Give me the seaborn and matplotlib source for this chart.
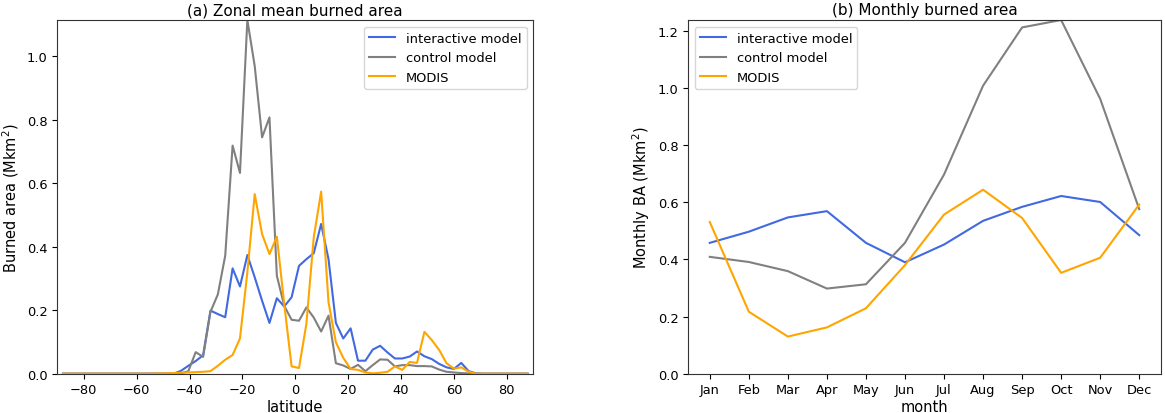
import numpy as np
import pandas as pd
import matplotlib
matplotlib.use("Agg")
import matplotlib.pyplot as plt
import seaborn as sns

# ---------------- data ----------------
latitude = [-87.86, -85.07, -82.28, -79.49, -76.70, -73.91, -71.13, -68.34,
            -65.55, -62.76, -59.97, -57.19, -54.40, -51.61, -48.82, -46.03,
            -43.24, -40.45, -37.66, -34.87, -32.08, -29.29, -26.50, -23.71,
            -20.92, -18.13, -15.35, -12.56, -9.77, -6.98, -4.19, -1.40,
            1.40, 4.19, 6.98, 9.77, 12.56, 15.35, 18.13, 20.92,
            23.71, 26.50, 29.29, 32.08, 34.87, 37.66, 40.45, 43.24,
            46.03, 48.82, 51.61, 54.40, 57.19, 59.97, 62.76, 65.55,
            68.34, 71.13, 73.91, 76.70, 79.49, 82.28, 85.07, 87.86]

zonal_interactive = [0, 0, 0, 0, 0, 0, 0, 0,
                     0, 0, 0, 0, 0, 0, 0, 0.0,
                     0.009, 0.025, 0.040, 0.058, 0.199, 0.188, 0.178, 0.332,
                     0.275, 0.374, 0.304, 0.230, 0.160, 0.238, 0.212, 0.241,
                     0.340, 0.361, 0.380, 0.472, 0.361, 0.160, 0.111, 0.143,
                     0.041, 0.041, 0.076, 0.088, 0.067, 0.048, 0.048, 0.054,
                     0.070, 0.055, 0.046, 0.031, 0.020, 0.015, 0.034, 0.008,
                     0.001, 0, 0, 0, 0, 0, 0, 0]

zonal_control = [0, 0, 0, 0, 0, 0, 0, 0,
                 0, 0, 0, 0, 0, 0, 0, 0,
                 0.001, 0.008, 0.068, 0.053, 0.195, 0.250, 0.372, 0.719,
                 0.633, 1.115, 0.970, 0.745, 0.808, 0.309, 0.214, 0.170,
                 0.167, 0.209, 0.177, 0.133, 0.183, 0.033, 0.026, 0.015,
                 0.028, 0.008, 0.027, 0.045, 0.044, 0.023, 0.027, 0.027,
                 0.024, 0.024, 0.023, 0.013, 0.006, 0.004, 0.002, 0.001,
                 0, 0, 0, 0, 0, 0, 0, 0]

zonal_modis = [0, 0, 0, 0, 0, 0, 0, 0,
               0, 0, 0, 0, 0, 0.001, 0.001, 0.002,
               0.003, 0.004, 0.005, 0.006, 0.008, 0.025, 0.044, 0.059,
               0.111, 0.320, 0.566, 0.440, 0.377, 0.432, 0.220, 0.023,
               0.018, 0.157, 0.430, 0.574, 0.225, 0.099, 0.050, 0.015,
               0.012, 0.004, 0.001, 0.003, 0.006, 0.023, 0.012, 0.037,
               0.034, 0.132, 0.106, 0.075, 0.033, 0.016, 0.020, 0.006,
               0.0, 0, 0, 0, 0, 0, 0, 0]

months = ["Jan", "Feb", "Mar", "Apr", "May", "Jun",
          "Jul", "Aug", "Sep", "Oct", "Nov", "Dec"]
monthly_interactive = [0.458, 0.497, 0.547, 0.569, 0.458, 0.390,
                       0.452, 0.535, 0.584, 0.622, 0.601, 0.485]
monthly_control = [0.409, 0.391, 0.359, 0.298, 0.313, 0.458,
                   0.697, 1.008, 1.212, 1.238, 0.962, 0.576]
monthly_modis = [0.531, 0.217, 0.130, 0.162, 0.229, 0.380,
                 0.557, 0.644, 0.545, 0.353, 0.406, 0.592]

series_names = ["interactive model", "control model", "MODIS"]
series_colors = ["royalblue", "gray", "orange"]

# ---------------- figure ----------------
plt.rcParams["font.family"] = ["DejaVu Sans"]
plt.rcParams["xtick.labelsize"] = 9.4
plt.rcParams["ytick.labelsize"] = 9.4
plt.rcParams["axes.labelsize"] = 10.5
plt.rcParams["axes.titlesize"] = 11
plt.rcParams["legend.fontsize"] = 9.4
plt.rcParams["axes.edgecolor"] = "#333333"

W, H = 1165, 414
fig = plt.figure(figsize=(W / 100, H / 100), dpi=100)
ax1 = fig.add_axes([57.3 / W, 1 - 374.7 / H, 476 / W, 353.7 / H])
ax2 = fig.add_axes([688.3 / W, 1 - 374.7 / H, 472.4 / W, 353.7 / H])

zonal = [zonal_interactive, zonal_control, zonal_modis]
for vals, name, col in zip(zonal, series_names, series_colors):
    sns.lineplot(x=latitude, y=vals, ax=ax1, color=col, label=name,
                 linewidth=1.5)
ax1.set_xlim(-90, 90)
ax1.set_ylim(0, max(zonal_control))
ax1.set_xlabel("latitude", labelpad=2)
ax1.set_ylabel("Burned area (Mkm$^2$)")
ax1.set_title("(a) Zonal mean burned area", pad=4)
ax1.legend(loc="upper right")

monthly = [monthly_interactive, monthly_control, monthly_modis]
for vals, name, col in zip(monthly, series_names, series_colors):
    sns.lineplot(x=months, y=vals, ax=ax2, color=col, label=name,
                 linewidth=1.5, sort=False)
ax2.set_ylim(0, max(monthly_control))
ax2.set_xlabel("month", labelpad=2)
ax2.set_ylabel("Monthly BA (Mkm$^2$)")
ax2.set_title("(b) Monthly burned area", pad=4)
ax2.legend(loc="upper left")

fig.savefig("out.png", dpi=100)
